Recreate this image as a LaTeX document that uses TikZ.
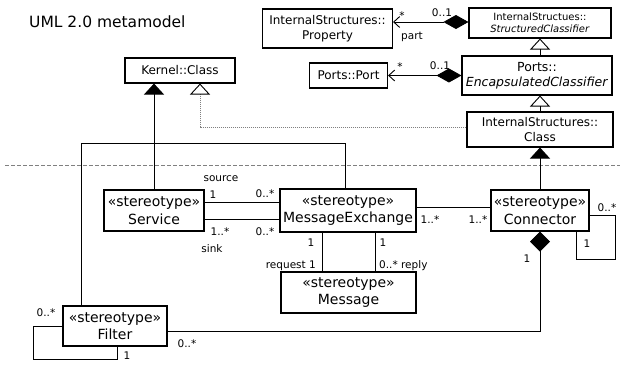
\documentclass[tikz,border=0pt]{standalone}
\usepackage{fontspec}
\setmainfont{DejaVu Sans}
\usetikzlibrary{arrows.meta}
\begin{document}
\begin{tikzpicture}[x=1pt,y=-1pt,
  box/.style={draw, line width=1.1pt, inner sep=1pt, align=center},
  cls/.style={box, font=\fontsize{12}{14.5}\selectfont},
  stereo/.style={box, font=\fontsize{14}{17.5}\selectfont},
  mult/.style={inner sep=0pt, font=\fontsize{10.5}{12}\selectfont},
  link/.style={line width=0.9pt},
  gen/.style={link, -{Triangle[open, width=20pt, length=11pt]}},
  genfill/.style={link, -{Triangle[width=20pt, length=11pt]}},
  comp/.style={link, {Straight Barb[length=6pt, width=11pt]}-{Diamond[width=14pt, length=25pt]}},
  sep/.style={line width=0.8pt, gray, dash pattern=on 4pt off 2pt},
  realize/.style={line width=0.8pt, gray, dash pattern=on 1pt off 1pt, -{Triangle[open, width=20pt, length=11pt, fill=white, color=black, line width=0.9pt]}}]
\useasboundingbox (0,0) rectangle (620,364);

% title
\node[anchor=base west, inner sep=0pt, font=\fontsize{15.5}{18}\selectfont] (title) at (29,27) {UML 2.0 metamodel};

% metamodel classes
\node[cls, minimum width=110pt, minimum height=25pt] (kclass) at (180,70.5) {Kernel::Class};
\node[cls, minimum width=130pt, minimum height=39pt] (prop) at (327.5,28.5) {InternalStructures::\\Property};
\node[box, font=\fontsize{10}{12}\selectfont, minimum width=142pt, minimum height=30pt] (struct) at (540,23) {InternalStructues::\\\textit{StructuredClassifier}};
\node[cls, minimum width=78pt, minimum height=25pt] (port) at (348.5,75.5) {Ports::Port};
\node[cls, font=\fontsize{12.5}{15}\selectfont, minimum width=150pt, minimum height=39pt] (encl) at (537,75.5) {Ports::\\\textit{EncapsulatedClassifier}};
\node[cls, minimum width=146pt, minimum height=35pt] (isclass) at (540,129.5) {InternalStructures::\\Class};

% profile stereotypes
\node[stereo, minimum width=100pt, minimum height=41pt] (service) at (154,210.5) {«stereotype»\\Service};
\node[stereo, minimum width=136pt, minimum height=43pt] (mex) at (348,210.5) {«stereotype»\\MessageExchange};
\node[stereo, minimum width=98pt, minimum height=41pt] (conn) at (540,210.5) {«stereotype»\\Connector};
\node[stereo, minimum width=135pt, minimum height=41pt] (msg) at (348.5,292.5) {«stereotype»\\Message};
\node[stereo, minimum width=104pt, minimum height=40pt] (filter) at (115,326) {«stereotype»\\Filter};

% separator between metamodel and profile
\coordinate (sepL) at (5,165);
\coordinate (sepR) at (620,165);
\draw[sep] (sepL) -- (sepR);

% metamodel associations
\coordinate (pe) at ([yshift=6.5pt]prop.east);
\draw[comp] (pe) -- (struct.west |- pe);
\draw[comp] (port.east) -- (encl.west);
\draw[gen] (encl.north -| struct.south) -- (struct.south);
\draw[gen] (isclass.north) -- (isclass.north |- encl.south);
\draw[realize] ([yshift=2.5pt]isclass.west) -| ([xshift=20pt]kclass.south);

% MessageExchange -- Filter
\coordinate (bend) at (81,143);
\draw[link] ([xshift=-3pt]mex.north) |- (bend) -- (bend |- filter.north);

% extensions
\draw[genfill] (service.north) -- (service.north |- kclass.south);
\draw[genfill] (conn.north) -- (isclass.south);

% Service -- MessageExchange
\coordinate (su) at ([yshift=8.5pt]service.east);
\coordinate (sd) at ([yshift=-8.5pt]service.east);
\draw[link] (su) -- (su -| mex.west);
\draw[link] (sd) -- (sd -| mex.west);

% MessageExchange -- Connector
\coordinate (me) at ([yshift=3.5pt]mex.east);
\draw[link] (me) -- (me -| conn.west);

% MessageExchange -- Message
\coordinate (rq) at ([xshift=-26pt]mex.south);
\coordinate (rp) at ([xshift=27pt]mex.south);
\draw[link] (rq) -- (rq |- msg.north);
\draw[link] (rp) -- (rp |- msg.north);

% Connector self association
\coordinate (cloop) at (615,259);
\draw[link] ([yshift=-4.5pt]conn.east) -| (cloop) -| ([xshift=36pt]conn.south);

% Connector composition of Filter
\draw[link, {Diamond[width=20pt, length=20pt]}-] (conn.south) |- ([yshift=-5pt]filter.east);

% Filter self association
\coordinate (floop) at (33,359);
\draw[link] (filter.west) -| (floop) -| ([xshift=2pt]filter.south);

% multiplicities and roles
\node[mult] (m1) at (402,16) {*};
\node[mult] (m2) at (442,13) {0..1};
\node[mult] (m3) at (412,37) {part};
\node[mult] (m4) at (400,67) {*};
\node[mult] (m5) at (440,66) {0..1};
\node[mult] (m6) at (221,179) {source};
\node[mult] (m7) at (213,195) {1};
\node[mult] (m8) at (265,194) {0..*};
\node[mult] (m9) at (220,232) {1..*};
\node[mult] (m10) at (265,232) {0..*};
\node[mult] (m11) at (212,249) {sink};
\node[mult] (m12) at (430,220) {1..*};
\node[mult] (m13) at (478,220) {1..*};
\node[mult] (m14) at (311,243) {1};
\node[mult] (m15) at (383,243) {1};
\node[mult, anchor=east] (m16) at (316,266) {request 1};
\node[mult, anchor=west] (m17) at (379,266) {0..* reply};
\node[mult] (m18) at (607,208) {0..*};
\node[mult] (m19) at (587,244) {1};
\node[mult] (m20) at (527,259) {1};
\node[mult] (m21) at (187,344) {0..*};
\node[mult] (m22) at (46,313) {0..*};
\node[mult] (m23) at (127,356) {1};
\end{tikzpicture}
\end{document}
